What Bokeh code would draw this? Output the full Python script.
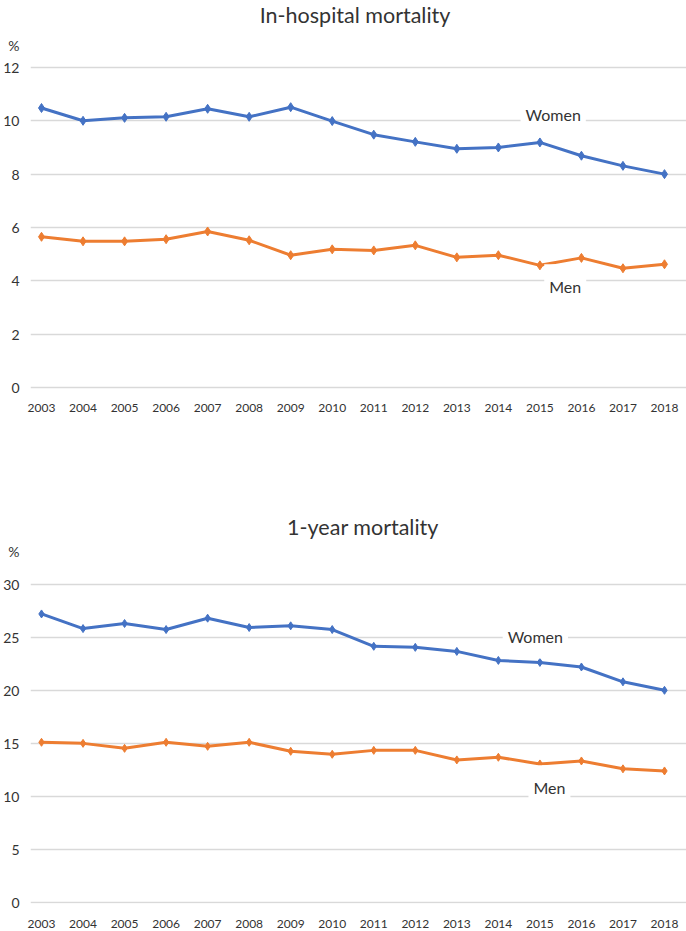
from bokeh.plotting import figure
from bokeh.layouts import column
from bokeh.models import Range1d, FixedTicker, Label
from bokeh.embed import file_html
from bokeh.resources import INLINE

years = list(range(2003, 2019))

# In-hospital mortality (%)
hosp_women = [10.48, 10.00, 10.11, 10.15, 10.45, 10.15, 10.51, 9.99, 9.48, 9.21, 8.95, 9.00, 9.19, 8.69, 8.31, 8.00]
hosp_men = [5.65, 5.48, 5.48, 5.56, 5.85, 5.52, 4.96, 5.18, 5.14, 5.33, 4.88, 4.96, 4.58, 4.86, 4.47, 4.62]

# 1-year mortality (%)
year_women = [27.2, 25.82, 26.3, 25.73, 26.8, 25.92, 26.08, 25.73, 24.15, 24.05, 23.67, 22.82, 22.63, 22.2, 20.8, 20.0]
year_men = [15.1, 15.0, 14.53, 15.1, 14.72, 15.1, 14.25, 13.97, 14.34, 14.34, 13.44, 13.69, 13.06, 13.34, 12.6, 12.4]

hosp_ticks = [0, 2, 4, 6, 8, 10, 12]
year_ticks = [0, 5, 10, 15, 20, 25, 30]

BLUE = "#4472C4"
ORANGE = "#ED7D31"
FONT = "Lato"
TXT = "#333333"


def make_chart(title, women, men, ticks, yr, height, border_bottom, title_pos, pct_y,
               women_pos, men_pos, marker_size, label_standoff):
    p = figure(width=686, height=height, output_backend="svg", toolbar_location=None,
               x_range=Range1d(2002.735, 2018.53), y_range=Range1d(*yr),
               min_border_left=26, min_border_right=0, min_border_top=0,
               min_border_bottom=border_bottom)
    p.outline_line_color = None
    p.background_fill_color = "white"
    p.border_fill_color = "white"

    # axes
    p.xaxis.ticker = FixedTicker(ticks=years)
    p.yaxis.ticker = FixedTicker(ticks=ticks + [pct_y])
    p.yaxis.major_label_overrides = {pct_y: "%"}
    for ax in (p.xaxis, p.yaxis):
        ax.axis_line_color = None
        ax.major_tick_line_color = None
        ax.minor_tick_line_color = None
        ax.major_label_text_font = FONT
        ax.major_label_text_color = TXT
    p.xaxis.major_label_text_font_size = "12px"
    p.xaxis.major_label_standoff = label_standoff
    p.yaxis.major_label_text_font_size = "14px"
    p.yaxis.major_label_standoff = 5

    p.xgrid.visible = False
    p.ygrid.ticker = FixedTicker(ticks=ticks)
    p.ygrid.grid_line_color = "#D9D9D9"
    p.ygrid.grid_line_width = 1.5

    p.line(years, women, line_color=BLUE, line_width=3)
    p.scatter(years, women, marker="diamond", size=marker_size, fill_color=BLUE, line_color=BLUE)
    p.line(years, men, line_color=ORANGE, line_width=3)
    p.scatter(years, men, marker="diamond", size=marker_size, fill_color=ORANGE, line_color=ORANGE)

    p.add_layout(Label(x=title_pos[0], y=title_pos[1], text=title, text_align="center",
                       text_baseline="middle", text_font=FONT, text_font_size="21.5px",
                       text_color=TXT))
    for (lx, ly), txt in ((women_pos, "Women"), (men_pos, "Men")):
        p.add_layout(Label(x=lx, y=ly, text=txt, text_align="center", text_baseline="middle",
                           text_font=FONT, text_font_size="16px", text_color=TXT,
                           background_fill_color="white", padding=(5, 13)))
    return p


p1 = make_chart("In-hospital mortality", hosp_women, hosp_men, hosp_ticks,
                (-0.1125, 14.51), 428, 38, (2010.55, 13.95), 12.82,
                (2015.32, 10.22), (2015.61, 3.78), 9, 7)
p2 = make_chart("1-year mortality", year_women, year_men, year_ticks,
                (-0.094, 44.68), 502, 26, (2010.74, 35.37), 33.1,
                (2014.89, 25.12), (2015.23, 10.82), 8, 10)

layout = column(p1, p2, spacing=0)

with open("out.html", "w") as f:
    f.write(file_html(layout, INLINE))
